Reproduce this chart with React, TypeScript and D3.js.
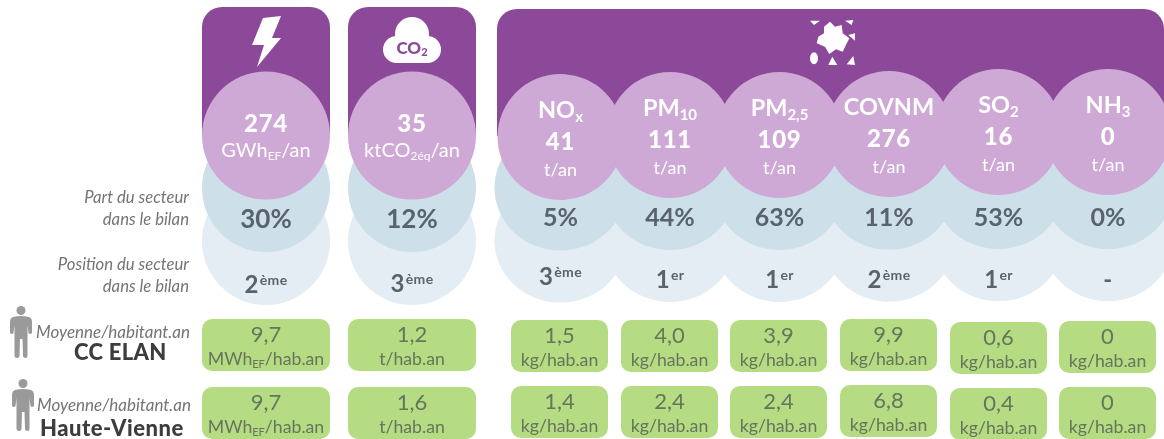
import React from "react";
import * as d3 from "d3";

const mainCategories = ["energy", "co2"];
const pollutants = ["NOx", "PM10", "PM2,5", "COVNM", "SO2", "NH3"];
const pollutantBase = ["NO", "PM", "PM", "COVNM", "SO", "NH"];
const pollutantSub = ["x", "10", "2,5", "", "2", "3"];
const mainValues = ["274", "35"];
const pollutantValues = ["41", "111", "109", "276", "16", "0"];
const mainShares = ["30%", "12%"];
const pollutantShares = ["5%", "44%", "63%", "11%", "53%", "0%"];
const mainRanks = [["2", "ème"], ["3", "ème"]];
const pollutantRanks = [["3", "ème"], ["1", "er"], ["1", "er"], ["2", "ème"], ["1", "er"], ["-", ""]];
const mainElan = ["9,7", "1,2"];
const mainHv = ["9,7", "1,6"];
const pollutantElan = ["1,5", "4,0", "3,9", "9,9", "0,6", "0"];
const pollutantHv = ["1,4", "2,4", "2,4", "6,8", "0,4", "0"];

// hand-layout nudges of the source infographic
const ellipseDy = [2, 0, 0, -1, -3, -3];
const boxDyElan = [0, 0, 0, -1, 2, 1];
const boxDyHv = [0, 0, 0, -1, 2, 1];
const boxLeft = [511, 621, 730, 840, 950, 1059];

const PURPLE = "#8d4899", MAUVE = "#cfa9d6", BLUE = "#cddfe9", PALE = "#e4edf3", GREEN = "#b5dc82";
const GREY = "#59646c", BOXTXT = "#66745c", FONT = "Lato, sans-serif";

const xMain = d3.scalePoint<string>().domain(mainCategories).range([266, 412]);
const xPoll = d3.scalePoint<string>().domain(pollutants).range([560.5, 1108]);

const topRounded = (x0: number, x1: number, y0: number, y1: number, r: number) => {
  const p = d3.path();
  p.moveTo(x0, y1);
  p.lineTo(x0, y0 + r);
  p.arcTo(x0, y0, x0 + r, y0, r);
  p.lineTo(x1 - r, y0);
  p.arcTo(x1, y0, x1, y0 + r, r);
  p.lineTo(x1, y1);
  p.closePath();
  return p.toString();
};

const poly = (pts: [number, number][]) => d3.line()(pts) + "Z";

function Sub({ base, sub, subSize, dy, tail }: { base: string; sub?: string; subSize: number; dy: number; tail?: string }) {
  return (
    <>
      <tspan>{base}</tspan>
      {sub ? <tspan fontSize={subSize} dy={dy}>{sub}</tspan> : null}
      {tail ? <tspan dy={sub ? -dy : 0}>{tail}</tspan> : null}
    </>
  );
}

function Rank({ cx, y, rank }: { cx: number; y: number; rank: string[] }) {
  return (
    <text x={cx} y={y} textAnchor="middle" fill={GREY} fontWeight={700} fontSize={24} letterSpacing={0.3}>
      <tspan>{rank[0]}</tspan>
      {rank[1] ? <tspan fontSize={14} dy={-8} dx={1}>{rank[1]}</tspan> : null}
    </text>
  );
}

function GreenBox({ x, y, w, h, value, unit }: { x: number; y: number; w: number; h: number; value: string; unit: React.ReactNode }) {
  const cx = x + w / 2;
  return (
    <g>
      <rect x={x} y={y} width={w} height={h} rx={10} fill={GREEN} />
      <text x={cx} y={y + 23} textAnchor="middle" fontSize={22} fill={BOXTXT}>{value}</text>
      <text x={cx} y={y + 46} textAnchor="middle" fontSize={17.7} fill={BOXTXT}>{unit}</text>
    </g>
  );
}

function Person({ x, y }: { x: number; y: number }) {
  return (
    <g transform={`translate(${x},${y})`} fill="#9a9a9a">
      <circle cx={11} cy={4.5} r={4.5} />
      <path d="M3 11 Q11 9 19 11 Q22 12 22 16 L22 27 Q20 29 18.5 27 L17.5 19 L17.5 50 Q17.5 52 15.5 52 Q13 52 13 50 L12.5 33 L10 33 L9.5 50 Q9.5 52 7 52 Q4.5 52 4.5 50 L4.5 19 L3.5 27 Q2 29 0 27 L0 16 Q0 12 3 11Z" />
    </g>
  );
}

export default function App() {
  return (
    <svg width={1164} height={439} viewBox="0 0 1164 439" style={{ position: "absolute", left: 0, top: 0, display: "block", background: "#fff" }} fontFamily={FONT}>
      <defs>
        <filter id="soft" x="-2%" y="-2%" width="104%" height="104%">
          <feGaussianBlur stdDeviation={0.45} />
        </filter>
      </defs>
      <g filter="url(#soft)">
        {/* headers */}
        {mainCategories.map((c) => (
          <path key={c} d={topRounded(xMain(c)! - 64, xMain(c)! + 64, 7, 136, 20)} fill={PURPLE} />
        ))}
        <path d={topRounded(497, 1164, 9, 136, 20)} fill={PURPLE} />

        {/* stacked circles */}
        {mainCategories.map((c) => (
          <g key={c}>
            <circle cx={xMain(c)} cy={241} r={64} fill={PALE} />
            <circle cx={xMain(c)} cy={188} r={64} fill={BLUE} />
            <circle cx={xMain(c)} cy={135.5} r={64} fill={MAUVE} />
          </g>
        ))}
        {pollutants.map((c, i) => (
          <ellipse key={c} cx={xPoll(c)} cy={240 + ellipseDy[i] * 0.3} rx={66} ry={62} fill={PALE} />
        ))}
        {pollutants.map((c, i) => (
          <ellipse key={c} cx={xPoll(c)} cy={187 + ellipseDy[i] * 0.3} rx={66} ry={63} fill={BLUE} />
        ))}
        {pollutants.map((c, i) => (
          <ellipse key={c} cx={xPoll(c)} cy={135 + ellipseDy[i]} rx={63} ry={63} fill={MAUVE} />
        ))}

        {/* icons */}
        <path d={poly([[263, 18], [281, 16], [272, 38], [281, 38], [257, 67], [264, 45], [252, 45]])} fill="#fff" />
        <g fill="#fff">
          <circle cx={412} cy={34} r={17} />
          <rect x={383} y={36} width={58} height={27} rx={13.5} />
        </g>
        <text x={412} y={54} textAnchor="middle" fontSize={17} fontWeight={900} fill={PURPLE}>
          CO<tspan fontSize={11} dy={2}>2</tspan>
        </text>
        <g fill="#fff">
          <path d={poly([[830, 21.7], [835, 26.7], [841.7, 25], [842.7, 33.3], [849.3, 38.3], [846, 45], [842.7, 51.7], [836, 49.3], [829.3, 54], [825, 46.7], [816.7, 43.3], [818.3, 36.7], [824, 33.3], [824, 26.7]])} />
          <path d={poly([[810, 20.7], [820, 20.7], [814, 25]])} />
          <path d={poly([[845, 20.7], [853.3, 20], [851.7, 25]])} />
          <path d={poly([[848.3, 35], [855, 33.3], [855, 40.7]])} />
          <ellipse cx={814} cy={58.3} rx={4} ry={6} />
          <path d={poly([[832.3, 56.7], [837.3, 65], [828.3, 65]])} />
          <path d={poly([[853.3, 56], [855, 65], [846.7, 64.3]])} />
        </g>

        {/* main column texts */}
        {mainCategories.map((c, i) => {
          const cx = xMain(c)!;
          return (
            <g key={c} textAnchor="middle">
              <text x={cx} y={132} fontSize={24} fontWeight={900} fill="#fff" letterSpacing={0.8}>{mainValues[i]}</text>
              <text x={cx} y={157} fontSize={20} fill="#fff">
                {i === 0
                  ? <Sub base="GWh" sub="EF" subSize={12} dy={3} tail="/an" />
                  : <Sub base="ktCO" sub="2éq" subSize={12} dy={3} tail="/an" />}
              </text>
              <text x={cx} y={228} fontSize={26} fontWeight={700} fill={GREY}>{mainShares[i]}</text>
              <Rank cx={cx} y={i === 0 ? 293 : 292} rank={mainRanks[i]} />
              <GreenBox x={cx - 64} y={319} w={128} h={52} value={mainElan[i]}
                unit={i === 0 ? <Sub base="MWh" sub="EF" subSize={11} dy={3} tail="/hab.an" /> : "t/hab.an"} />
              <GreenBox x={cx - 64} y={387} w={128} h={52} value={mainHv[i]}
                unit={i === 0 ? <Sub base="MWh" sub="EF" subSize={11} dy={3} tail="/hab.an" /> : "t/hab.an"} />
            </g>
          );
        })}

        {/* pollutant column texts */}
        {pollutants.map((c, i) => {
          const cx = xPoll(c)!;
          const d = ellipseDy[i];
          return (
            <g key={c} textAnchor="middle">
              <text x={cx} y={116 + d} fontSize={23.5} fontWeight={700} fill="#fff">
                <Sub base={pollutantBase[i]} sub={pollutantSub[i]} subSize={15} dy={4} />
              </text>
              <text x={cx} y={148 + d} fontSize={24} fontWeight={900} fill="#fff" letterSpacing={0.8}>{pollutantValues[i]}</text>
              <text x={cx} y={174 + d} fontSize={18} fill="#fff">t/an</text>
              <text x={cx} y={226} fontSize={25} fontWeight={700} fill={GREY}>{pollutantShares[i]}</text>
              <Rank cx={cx} y={i === 0 ? 285 : 288} rank={pollutantRanks[i]} />
              <GreenBox x={boxLeft[i]} y={320 + boxDyElan[i]} w={97} h={52} value={pollutantElan[i]} unit="kg/hab.an" />
              <GreenBox x={boxLeft[i]} y={386 + boxDyHv[i]} w={97} h={52} value={pollutantHv[i]} unit="kg/hab.an" />
            </g>
          );
        })}

        {/* left labels */}
        <g textAnchor="end" fontSize={16.7} fontStyle="italic" fill="#747474">
          <text x={189} y={203}>Part du secteur</text>
          <text x={189} y={225}>dans le bilan</text>
          <text x={189} y={270}>Position du secteur</text>
          <text x={189} y={292}>dans le bilan</text>
        </g>
        <Person x={10} y={306} />
        <Person x={12} y={379} />
        <g fontStyle="italic" fontSize={17} fill="#747474">
          <text x={36} y={338}>Moyenne/habitant.an</text>
          <text x={37} y={411}>Moyenne/habitant.an</text>
        </g>
        <g fontWeight={900} fill="#3c3c3c">
          <text x={74} y={360} fontSize={22} letterSpacing={0.3}>CC ELAN</text>
          <text x={40} y={436} fontSize={22} letterSpacing={0.5}>Haute-Vienne</text>
        </g>
      </g>
    </svg>
  );
}
